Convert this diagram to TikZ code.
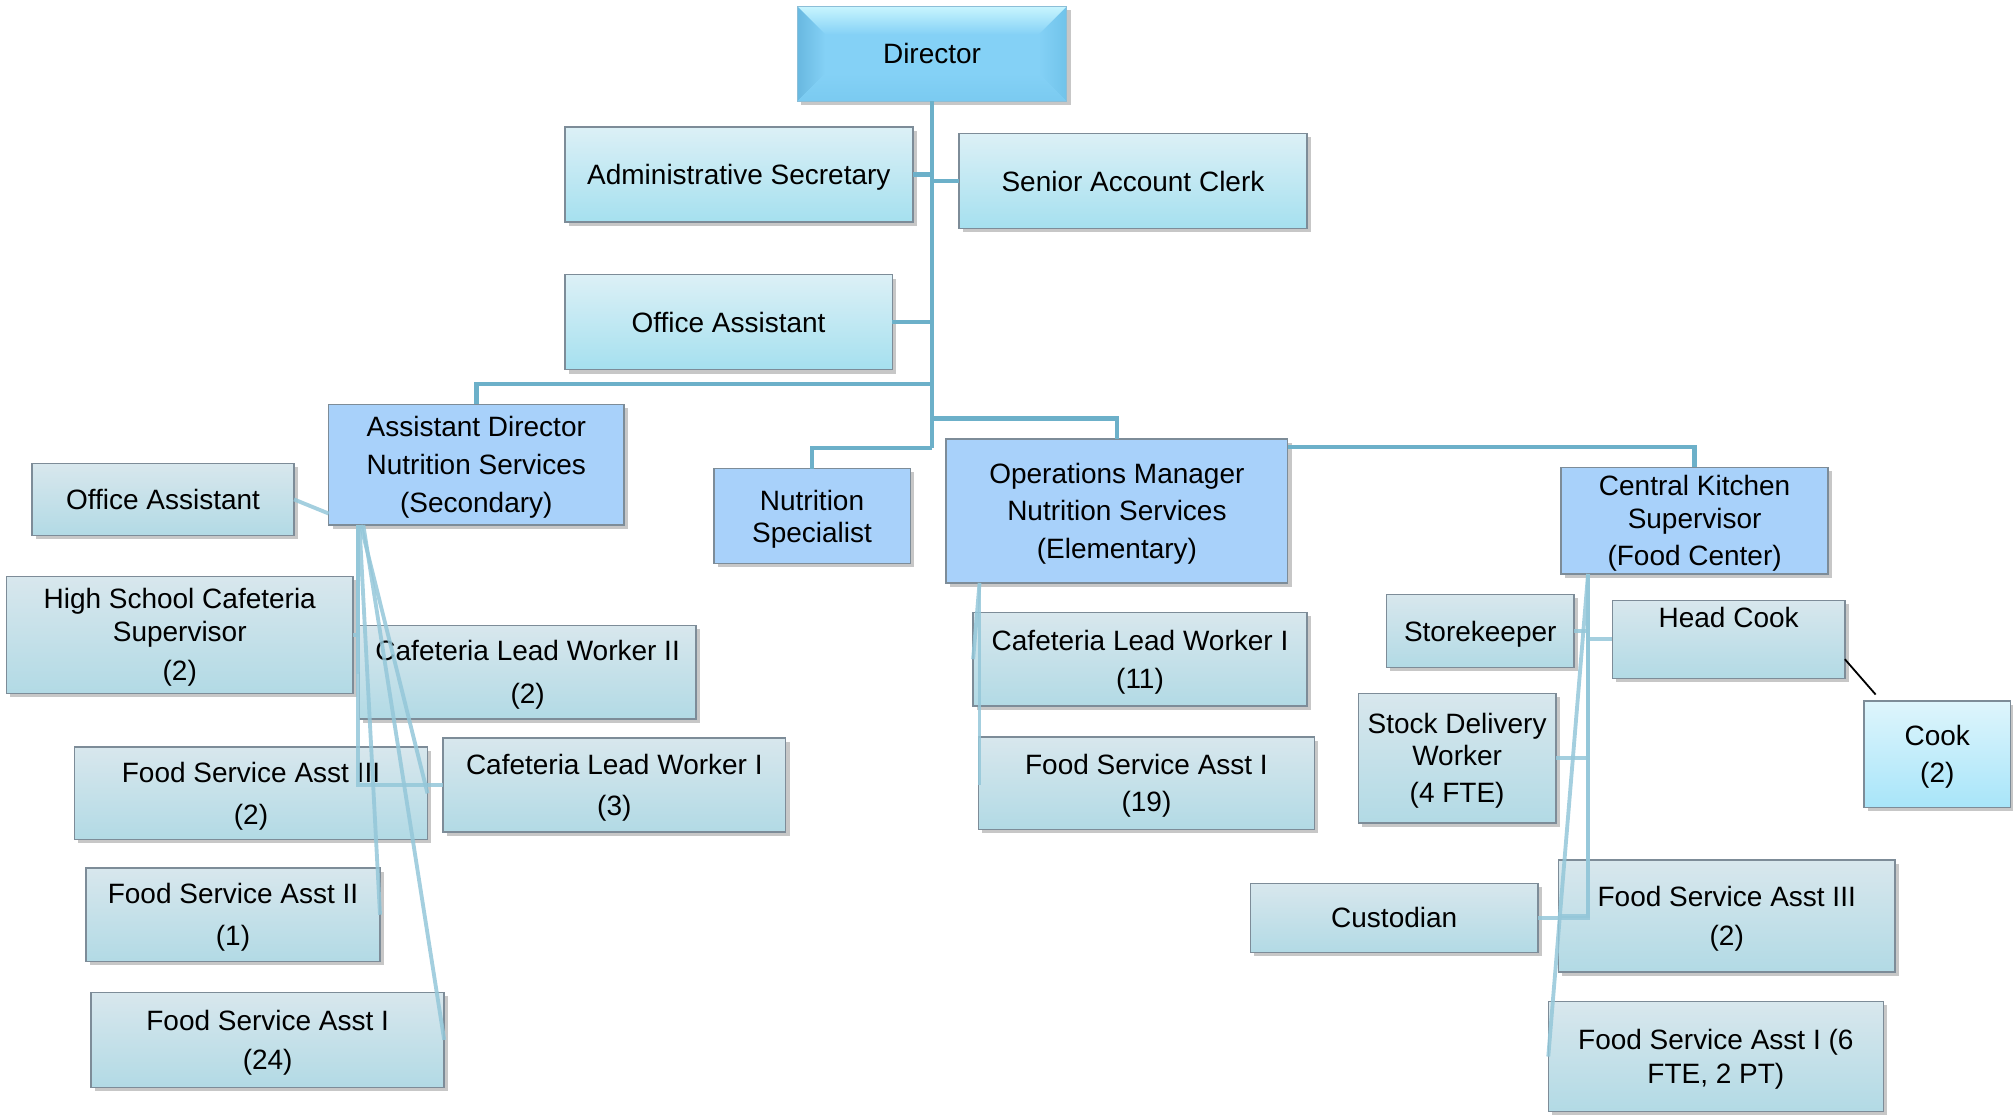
\documentclass[tikz,border=0pt]{standalone}
\usepackage{fontspec}
\setmainfont{Liberation Sans}
\usetikzlibrary{calc,shadows}
\definecolor{mainline}{RGB}{108,176,201}
\definecolor{fanline}{RGB}{148,199,217}
\definecolor{boxborder}{RGB}{125,140,152}
\definecolor{mgrblue}{RGB}{168,209,250}
\definecolor{greytop}{RGB}{216,231,237}
\definecolor{greybot}{RGB}{178,218,229}
\definecolor{cyantop}{RGB}{220,240,246}
\definecolor{cyanbot}{RGB}{165,224,239}
\definecolor{cooktop}{RGB}{222,245,252}
\definecolor{cookbot}{RGB}{168,229,249}
\definecolor{dirmid}{RGB}{132,209,246}
\newcommand\zs{\rule[-5pt]{0pt}{25.6pt}}
\newcommand\bx[7]{\node[#2, minimum width={#5-#3}, minimum height={#6-#4}] (#1) at ({(#3+#5)/2},{(#4+#6)/2}) {\zs#7\zs};}
\begin{document}
\begin{tikzpicture}[x=1pt,y=-1pt,
  base/.style={draw=boxborder, line width=1.1pt, inner sep=1pt, outer sep=0pt, align=center,
    font={\fontsize{21.8}{29.5}\selectfont},
    drop shadow={shadow xshift=3pt, shadow yshift=-3pt, opacity=0.22, fill=black}},
  greybox/.style={base, top color=greytop, bottom color=greybot},
  cyanbox/.style={base, top color=cyantop, bottom color=cyanbot},
  cookbox/.style={base, top color=cooktop, bottom color=cookbot},
  mgrbox/.style={base, fill=mgrblue},
  dirbox/.style={base, draw=none, fill=dirmid},
  main/.style={draw=mainline, line width=3.5pt},
  fan/.style={draw=fanline, line width=3pt, opacity=0.85},
  thinblack/.style={draw=black, line width=1.4pt}]
\useasboundingbox (0,0) rectangle (1568,868);

% ---- nodes ----
\bx{dir}{dirbox}{621}{5}{831}{79}{}
\bx{adm}{cyanbox}{440}{99}{711}{173}{Administrative Secretary}
\bx{sac}{cyanbox}{747}{104}{1018}{178}{Senior Account Clerk}
\bx{oaa}{cyanbox}{440}{214}{695}{288}{Office Assistant}
\bx{ad}{mgrbox}{256}{315}{486}{409}{Assistant Director\\[-0.5pt]Nutrition Services\\[0.5pt](Secondary)}
\bx{oab}{greybox}{25}{361}{229}{417}{Office Assistant}
\bx{nutr}{mgrbox}{556}{365}{709}{439}{Nutrition\\[-4.5pt]Specialist}
\bx{ops}{mgrbox}{737}{342}{1003}{454}{Operations Manager\\[-0.5pt]Nutrition Services\\[0.5pt](Elementary)}
\bx{ck}{mgrbox}{1216}{364}{1424}{447}{Central Kitchen\\[-4.5pt]Supervisor\\[-0.5pt](Food Center)}
\bx{hs}{greybox}{5}{449}{275}{540}{High School Cafeteria\\[-4.5pt]Supervisor\\[1.5pt](2)}
\bx{clwb}{greybox}{280}{487}{542}{560}{Cafeteria Lead Worker II\\[3.5pt](2)}
\bx{fsac}{greybox}{58}{582}{333}{654}{Food Service Asst III\\[3.5pt](2)}
\bx{clwa}{greybox}{345}{575}{612}{648}{Cafeteria Lead Worker I\\[2.5pt](3)}
\bx{fsab}{greybox}{67}{676}{296}{749}{Food Service Asst II\\[3.5pt](1)}
\bx{fsaa}{greybox}{71}{773}{346}{847}{Food Service Asst I\\[1.5pt](24)}
\bx{clwe}{greybox}{758}{477}{1018}{550}{Cafeteria Lead Worker I\\[0.5pt](11)}
\bx{fsae}{greybox}{762}{574}{1024}{646}{Food Service Asst I\\[-0.5pt](19)}
\bx{sk}{greybox}{1080}{463}{1226}{520}{Storekeeper}
\bx{hc}{greybox}{1256}{468}{1437}{528}{Head Cook\\ \strut}
\bx{cook}{cookbox}{1452}{546}{1566}{629}{Cook\\[-0.5pt](2)}
\bx{sd}{greybox}{1058}{540}{1212}{641}{Stock Delivery\\[-4.5pt]Worker\\[-0.5pt](4 FTE)}
\bx{cust}{greybox}{974}{688}{1198}{742}{Custodian}
\bx{fsak}{greybox}{1214}{670}{1476}{757}{Food Service Asst III\\[0.5pt](2)}
\bx{fsai}{greybox}{1206}{780}{1467}{866}{Food Service Asst I (6\\[-3.5pt]FTE, 2 PT)}

% ---- director bevel ----
\shade[top color={rgb,255:red,200;green,245;blue,254}, bottom color=dirmid]
  (dir.north west) -- (dir.north east) -- ($(dir.north east)+(-22,22)$) -- ($(dir.north west)+(22,22)$) -- cycle;
\shade[left color={rgb,255:red,104;green,184;blue,224}, right color=dirmid]
  (dir.north west) -- ($(dir.north west)+(22,22)$) -- ($(dir.south west)+(22,-22)$) -- (dir.south west) -- cycle;
\shade[left color=dirmid, right color={rgb,255:red,112;green,195;blue,234}]
  (dir.north east) -- ($(dir.north east)+(-22,22)$) -- ($(dir.south east)+(-22,-22)$) -- (dir.south east) -- cycle;
\shade[top color=dirmid, bottom color={rgb,255:red,122;green,202;blue,240}]
  (dir.south west) -- ($(dir.south west)+(22,-22)$) -- ($(dir.south east)+(-22,-22)$) -- (dir.south east) -- cycle;
\draw[draw={rgb,255:red,140;green,190;blue,215}, line width=0.8pt] (dir.north west) rectangle (dir.south east);
\node[font={\fontsize{21.8}{29.5}\selectfont}, inner sep=0pt] (dirtext) at (dir.center) {Director};

% ---- main tree connectors ----
\coordinate (tb) at (726,349);
\draw[main] (dir.south) -- (tb);
\draw[main] (adm.east) -- (adm.east -| dir.south);
\draw[main] (sac.west) -- (sac.west -| dir.south);
\draw[main] (oaa.east) -- (oaa.east -| dir.south);
\draw[main] (ad.north) |- ($(dir.south)+(0,220)$);
\draw[main] (ops.north) |- ($(dir.south)+(0,247)$);
\draw[main] (nutr.north) |- (tb);
\draw[main] (ck.north) |- ($(ops.north east)+(0,6)$);

% ---- secondary connectors ----
\coordinate (adb) at ($(ad.south west)+(23,0)$);
\draw[fan] (oab.east) -- ($(ad.south west)+(0,-9)$);
\draw[fan] (adb) |- (clwa.west);
\draw[fan] (adb) |- (hs.east);
\draw[fan] (adb) |- (clwb.west);
\draw[fan] ($(adb)+(2,0)$) -- (fsac.east);
\draw[fan] ($(adb)+(1,0)$) -- (fsab.east);
\draw[fan] ($(adb)+(4,0)$) -- (fsaa.east);

\coordinate (opb) at ($(ops.south west)+(26,0)$);
\draw[fan] (opb) -- (clwe.west);
\draw[fan] (opb) |- (fsae.west);

\coordinate (ckb) at ($(ck.south west)+(21,0)$);
\draw[fan] (ckb) |- (cust.east);
\draw[fan] (ckb) |- (sk.east);
\draw[fan] (ckb) |- (hc.west);
\draw[fan] (ckb) |- (sd.east);
\draw[fan] (ckb) |- (fsak.west);
\draw[fan] (ckb) -- (fsai.west);

\draw[thinblack] ($(hc.south east)+(0,-15)$) -- ($(cook.north west)+(9,-5)$);
\end{tikzpicture}
\end{document}
